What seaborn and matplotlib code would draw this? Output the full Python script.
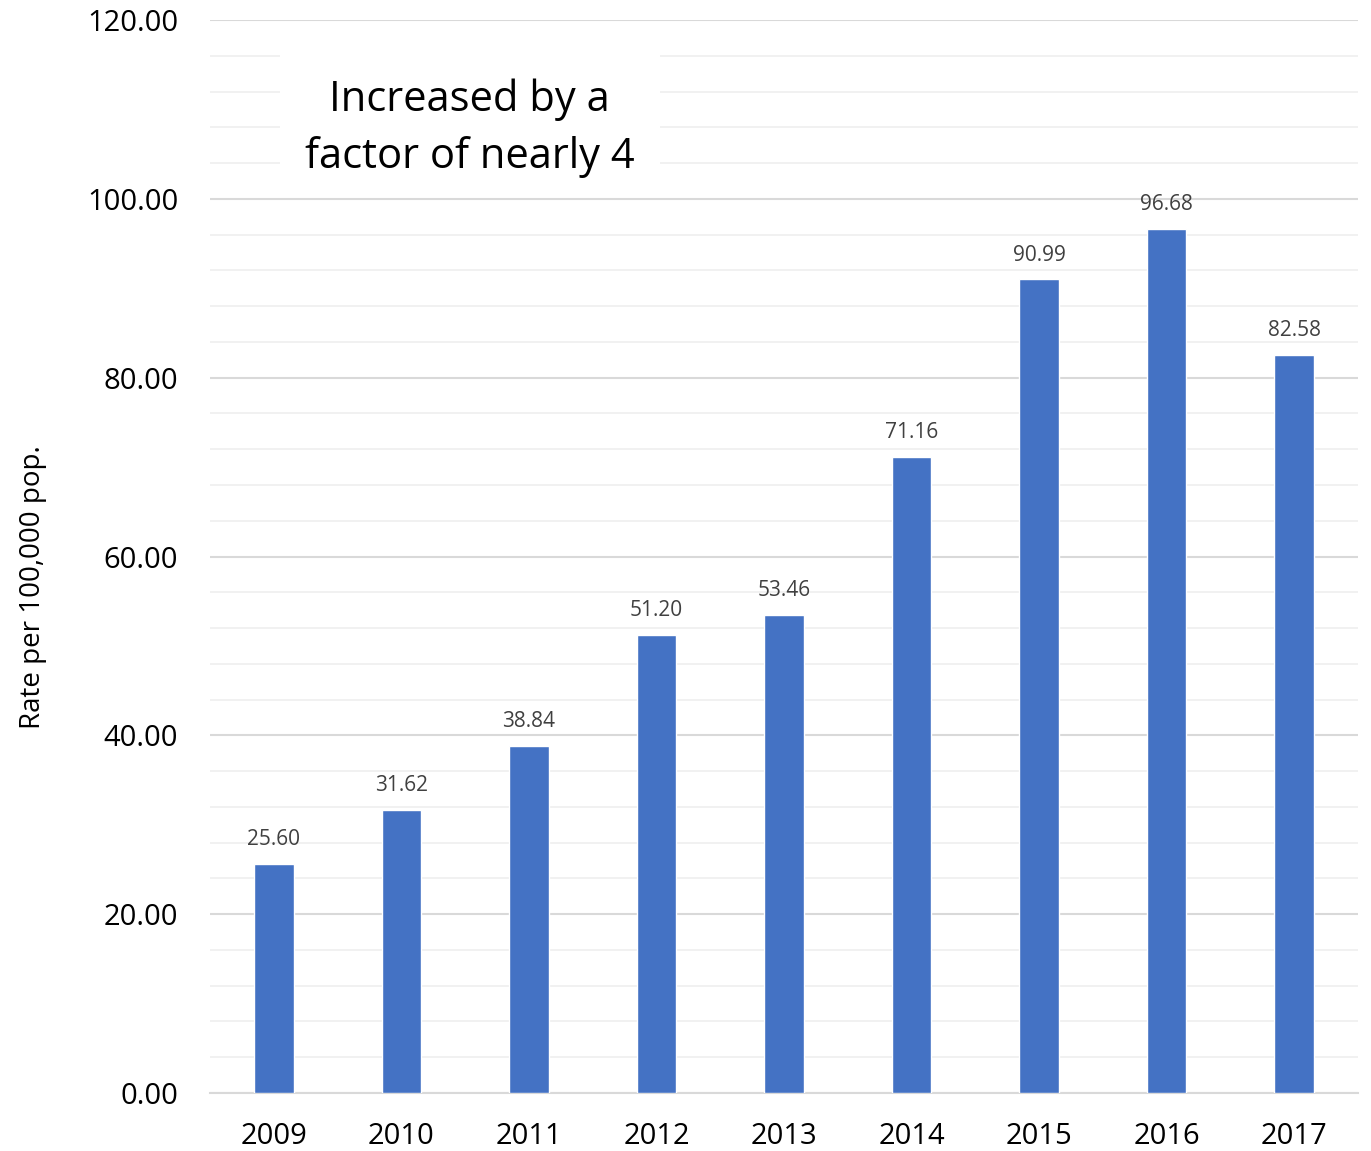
import matplotlib
matplotlib.use("Agg")
import matplotlib.pyplot as plt
import seaborn as sns
import pandas as pd
from matplotlib.patches import Rectangle
from matplotlib.ticker import MultipleLocator

years = ["2009", "2010", "2011", "2012", "2013", "2014", "2015", "2016", "2017"]
rates = [25.60, 31.62, 38.84, 51.20, 53.46, 71.16, 90.99, 96.68, 82.58]
y_label = "Rate per 100,000 pop."
note = "Increased by a\nfactor of nearly 4"

sns.set_theme(style="white")
plt.rcParams["font.family"] = ["Open Sans", "DejaVu Sans"]

df = pd.DataFrame({"year": years, "rate": rates})

fig = plt.figure(figsize=(13.71, 11.51), dpi=100)
ax = fig.add_axes([0.1532, 0.0504, 0.8373, 0.9322])

sns.barplot(data=df, x="year", y="rate", color="#4472C4", saturation=1,
            width=0.31, ax=ax, zorder=3)

ax.set_ylim(0, 120)
ax.yaxis.set_major_locator(MultipleLocator(20))
ax.yaxis.set_minor_locator(MultipleLocator(4))
ax.yaxis.set_major_formatter(lambda v, p: f"{v:.2f}")
ax.grid(which="major", axis="y", color="#d9d9d9", linewidth=1.5, zorder=0)
ax.grid(which="minor", axis="y", color="#f0f0f0", linewidth=1.3, zorder=0)
ax.set_axisbelow(True)

for s in ["top", "right", "left"]:
    ax.spines[s].set_visible(False)
ax.spines["bottom"].set_color("#d9d9d9")
ax.spines["bottom"].set_linewidth(1.5)

ax.tick_params(axis="both", which="both", length=0)
ax.tick_params(axis="y", labelsize=21, pad=23, labelcolor="#000000")
ax.tick_params(axis="x", labelsize=21, pad=21, labelcolor="#000000")
ax.set_xlabel("")
ax.set_ylabel("")
fig.text(33 / 1371, 1 - 587 / 1151, y_label, rotation=90, ha="center",
         va="center", fontsize=20, color="#000000")

ax.bar_label(ax.containers[0], fmt="%.2f", padding=10, fontsize=15,
             color="#404040")

# white callout box hiding the gridlines behind the note
ax.add_patch(Rectangle((0.061, 0.846), 0.331, 0.121, transform=ax.transAxes,
                       facecolor="white", edgecolor="none", zorder=2))
ax.text(0.226, 0.899, note, transform=ax.transAxes, ha="center", va="center",
        fontsize=30, color="#000000", linespacing=1.47, zorder=4)

fig.savefig("out.png", dpi=100)
